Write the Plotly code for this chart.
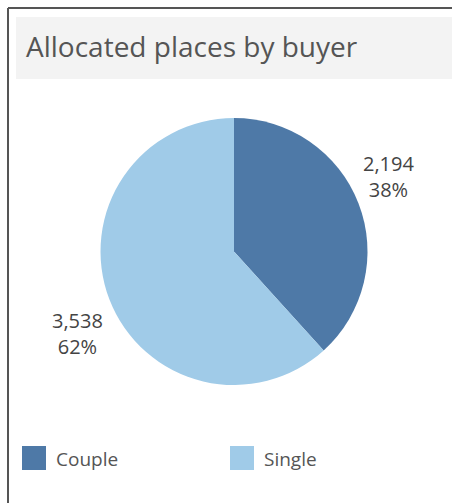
import plotly.graph_objects as go

labels = ["Couple", "Single"]
values = [2194, 3538]
colors = ["#4e79a7", "#a0cbe8"]
title_text = "Allocated places by buyer"

W, H = 452, 503
FONT = "Open Sans"
TXT = "#555555"

def px(x):
    return x / W

def py(y):
    return 1 - y / H

total = sum(values)

fig = go.Figure()
fig.add_trace(go.Pie(
    labels=labels, values=values, sort=False, direction="clockwise", rotation=0,
    marker=dict(colors=colors, line=dict(width=0)),
    textinfo="none",
    showlegend=False, hoverinfo="label+value+percent",
    domain=dict(x=[px(100), px(368)], y=[py(385), py(118)]),
))

shapes = [
    # outer frame
    dict(type="line", xref="paper", yref="paper", x0=px(8), x1=px(8), y0=py(8), y1=py(503),
         line=dict(color="#555555", width=2)),
    dict(type="line", xref="paper", yref="paper", x0=px(8), x1=1, y0=py(8), y1=py(8),
         line=dict(color="#555555", width=2)),
    # title band
    dict(type="rect", xref="paper", yref="paper", x0=px(16), x1=1, y0=py(79), y1=py(17),
         fillcolor="#f3f3f3", line=dict(width=0), layer="below"),
]
annotations = [
    dict(text=title_text, xref="paper", yref="paper", x=px(24), y=py(46),
         xanchor="left", yanchor="middle", showarrow=False,
         font=dict(family=FONT, size=28, color=TXT)),
]

# slice labels (value + percent)
label_pos = [(388, 177), (77, 333)]
for v, (lx, ly) in zip(values, label_pos):
    annotations.append(dict(
        text=f"{v:,}<br>{round(100 * v / total)}%", xref="paper", yref="paper",
        x=px(lx), y=py(ly), xanchor="center", yanchor="middle", showarrow=False,
        font=dict(family=FONT, size=20, color="#444444")))

legend_x = [22, 230]
for lab, col, lx in zip(labels, colors, legend_x):
    shapes.append(dict(type="rect", xref="paper", yref="paper", x0=px(lx), x1=px(lx + 24),
                       y0=py(470), y1=py(446), fillcolor=col, line=dict(width=0)))
    annotations.append(dict(text=lab, xref="paper", yref="paper", x=px(lx + 32), y=py(459),
                            xanchor="left", yanchor="middle", showarrow=False,
                            font=dict(family=FONT, size=19, color=TXT)))

fig.update_layout(
    width=W, height=H, margin=dict(l=0, r=0, t=0, b=0),
    paper_bgcolor="white", plot_bgcolor="white",
    shapes=shapes, annotations=annotations,
)
fig.write_html("out.html", config={"displayModeBar": False},
               post_script="document.body.style.margin='0';")
